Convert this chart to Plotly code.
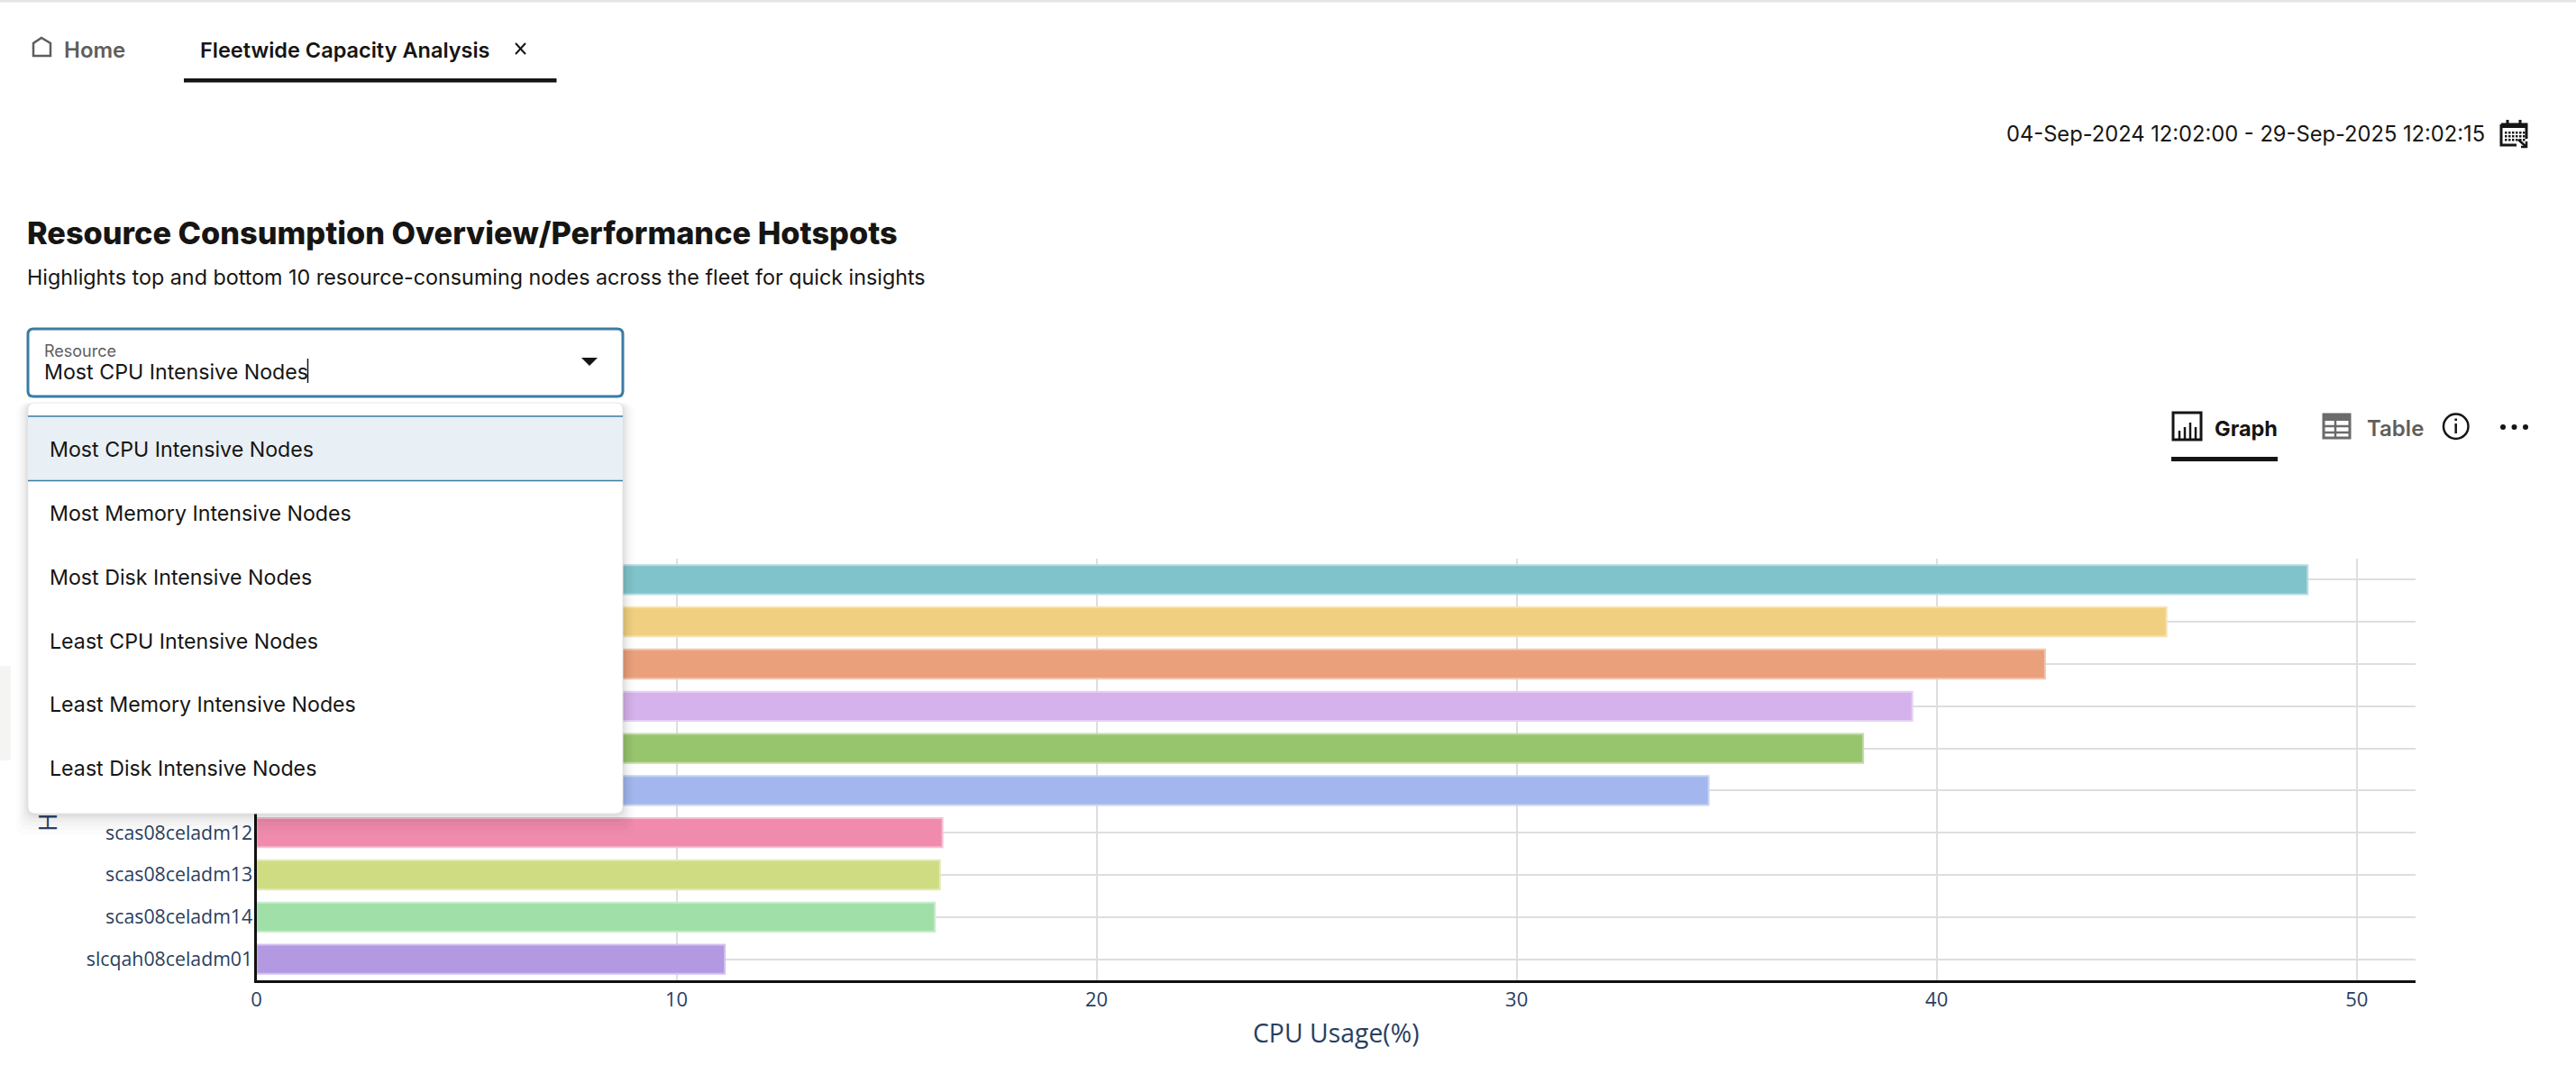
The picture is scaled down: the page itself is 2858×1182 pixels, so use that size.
import plotly.graph_objects as go

W, H = 2858, 1182

categories = ["node-1", "node-2", "node-3", "node-4", "node-5", "node-6",
              "scas08celadm12", "scas08celadm13", "scas08celadm14", "slcqah08celadm01"]
# Labels of the first six rows are hidden behind the open dropdown in the reference.
tick_labels = ["", "", "", "", "", "", "scas08celadm12", "scas08celadm13", "scas08celadm14", "slcqah08celadm01"]
cpu_usage = [48.83, 45.47, 42.58, 39.42, 38.25, 34.57, 16.33, 16.27, 16.15, 11.15]
bar_colors = ["#80c3ca", "#f0d080", "#eba07c", "#d6b2ec", "#97c56d", "#a3b7ee", "#f08bae", "#cfdc82", "#a0e0a8", "#b299e2"]
edge_colors = ["#b5dce0", "#f6e2b0", "#f3c6b0", "#e6d1f4", "#c3dda8", "#c8d4f5", "#f6bcd0", "#e2eab5", "#c8ecce", "#d2c2ef"]
x_ticks = [0, 10, 20, 30, 40, 50]
menu_items = ["Most CPU Intensive Nodes", "Most Memory Intensive Nodes", "Most Disk Intensive Nodes",
              "Least CPU Intensive Nodes", "Least Memory Intensive Nodes", "Least Disk Intensive Nodes"]

INK = "#161513"
GREY = "#5f5e5b"
BLUE = "#3a7ba3"
AXIS = "#2a3f5f"
UI = "Inter"

px = lambda x: x / W
py = lambda y: 1 - y / H


def pt(x, y):
    return f"{px(x):.6f},{py(y):.6f}"


def rrect(x0, y0, x1, y1, r):
    return (f"M{pt(x0 + r, y0)} L{pt(x1 - r, y0)} Q{pt(x1, y0)} {pt(x1, y0 + r)} "
            f"L{pt(x1, y1 - r)} Q{pt(x1, y1)} {pt(x1 - r, y1)} "
            f"L{pt(x0 + r, y1)} Q{pt(x0, y1)} {pt(x0, y1 - r)} "
            f"L{pt(x0, y0 + r)} Q{pt(x0, y0)} {pt(x0 + r, y0)} Z")


shapes = []


def rect(x0, y0, x1, y1, fill, line=None, lw=0):
    shapes.append(dict(type="rect", xref="paper", yref="paper", x0=px(x0), x1=px(x1), y0=py(y1), y1=py(y0),
                       fillcolor=fill, line=dict(color=line or fill, width=lw), layer="above"))


def path(d, fill="rgba(0,0,0,0)", line="rgba(0,0,0,0)", lw=0):
    shapes.append(dict(type="path", xref="paper", yref="paper", path=d, fillcolor=fill,
                       line=dict(color=line, width=lw), layer="above"))


def segs(points):
    return "M" + " L".join(pt(x, y) for x, y in points)


annotations = []


def text(x, y, s, size, color=INK, weight=400, anchor="left", family=UI, angle=0):
    annotations.append(dict(xref="paper", yref="paper", x=px(x), y=py(y), text=s, showarrow=False,
                            xanchor=anchor, yanchor="middle", borderpad=0, textangle=angle,
                            font=dict(family=family, size=size, color=color, weight=weight)))


# page chrome
rect(0, 0, W, 2.5, "#e4e4e4")
rect(0, 739, 12, 844, "#f4f4f3")

# tabs
path(segs([(37, 62), (37, 48), (46, 42), (56, 48), (56, 62), (37, 62)]) + " Z", line=GREY, lw=2.5)
text(70, 55, "Home", 24, GREY, 600)
text(220.5, 55, "Fleetwide Capacity Analysis", 23.5, INK, 600)
path(segs([(572, 48), (583, 60)]), line=INK, lw=2)
path(segs([(583, 48), (572, 60)]), line=INK, lw=2)
rect(204, 87, 617.5, 91.5, INK)

# date range + calendar
text(2225, 149, "04-Sep-2024 12:02:00 - 29-Sep-2025 12:02:15", 23.7, INK)
path(segs([(2775, 138), (2803, 138), (2803, 154)]), line=INK, lw=3)
path(segs([(2775, 138), (2775, 161), (2792, 161)]), line=INK, lw=3)
rect(2775, 137, 2803, 142, INK)
path(segs([(2782, 133), (2782, 140)]), line=INK, lw=3)
path(segs([(2796, 133), (2796, 140)]), line=INK, lw=3)
for gy in (146, 150, 154):
    for gx in (2779, 2783, 2787, 2791, 2795, 2799):
        rect(gx, gy, gx + 2.5, gy + 2.5, INK)
path(segs([(2794, 155), (2803, 163)]), line=INK, lw=2.5)
path(segs([(2803, 157), (2803, 163), (2797, 163)]), line=INK, lw=2.5)

# heading
text(28.5, 258.5, "Resource Consumption Overview/Performance Hotspots", 34.3, INK, 800)
text(29, 308, "Highlights top and bottom 10 resource-consuming nodes across the fleet for quick insights", 23.3, INK)

# graph / table switch
path(segs([(2411, 458), (2442, 458), (2442, 488), (2411, 488), (2411, 458)]) + " Z", line=INK, lw=3)
for bx, by in ((2418, 478), (2424, 474), (2430, 469), (2436, 474)):
    path(segs([(bx, by), (bx, 488)]), line=INK, lw=2.5)
text(2456, 475, "Graph", 23.5, INK, 700)
rect(2409, 507, 2527, 512, INK)
rect(2578, 460, 2607, 486, "#ffffff", "#6b6b6b", 3)
rect(2578, 460, 2607, 467, "#6b6b6b")
for ly in (473, 480):
    path(segs([(2578, ly), (2607, ly)]), line="#6b6b6b", lw=2.5)
path(segs([(2591, 460), (2591, 486)]), line="#6b6b6b", lw=2.5)
text(2625, 475, "Table", 24, GREY, 600)
shapes.append(dict(type="circle", xref="paper", yref="paper", x0=px(2711), x1=px(2738.5), y0=py(487), y1=py(459.5),
                   fillcolor="rgba(0,0,0,0)", line=dict(color=INK, width=2.5), layer="above"))
path(segs([(2724.7, 470), (2724.7, 481)]), line=INK, lw=2.5)
rect(2723.4, 464.5, 2726, 467, INK)
for dx in (2777, 2789.5, 2802):
    shapes.append(dict(type="circle", xref="paper", yref="paper", x0=px(dx - 3), x1=px(dx + 3),
                       y0=py(477), y1=py(471), fillcolor=INK, line=dict(width=0), layer="above"))

# dropdown shadow
for grow, alpha in ((26, 0.012), (20, 0.014), (15, 0.018), (10, 0.022), (6, 0.028), (3, 0.035)):
    path(rrect(31 - grow * 0.5, 447, 691 + grow * 0.5, 903 + grow * 0.9, 12), fill=f"rgba(0,0,0,{alpha})")

# dropdown menu
path(rrect(31, 447, 691, 903, 8), fill="#ffffff", line="#e6e6e6", lw=1)
rect(31, 462, 691, 533.5, "#e8f0f6")
path(segs([(31, 462), (691, 462)]), line=BLUE, lw=1.5)
path(segs([(31, 533.5), (691, 533.5)]), line=BLUE, lw=1.5)
item_y = [499, 570, 640.7, 711.7, 782, 852.7]
for label, iy in zip(menu_items, item_y):
    text(54, iy, label, 23.2, INK)

# select box
path(rrect(31, 365, 691, 440, 6), fill="#ffffff", line=BLUE, lw=3)
text(47.5, 389, "Resource", 18, GREY)
text(47.5, 413, "Most CPU Intensive Nodes", 23.2, INK)
path(segs([(341.5, 398), (341.5, 425)]), line=INK, lw=1.5)
path(segs([(645, 397), (663, 397), (654, 406)]) + " Z", fill=INK)

# clipped remainder of the vertical axis title
text(52, 913, "H", 28, AXIS, anchor="center", angle=-90, family="Open Sans")

fig = go.Figure(go.Bar(
    x=cpu_usage, y=categories, orientation="h", width=0.69,
    marker=dict(color=bar_colors, line=dict(color=edge_colors, width=2)),
))
fig.update_layout(
    width=W, height=H, margin=dict(l=0, r=0, t=0, b=0, pad=0),
    paper_bgcolor="#ffffff", plot_bgcolor="#ffffff", showlegend=False,
    font=dict(family="Open Sans", color=AXIS, size=22),
    xaxis=dict(domain=[px(284.5), px(2680)], range=[0, 51.4], anchor="y", tickvals=x_ticks, automargin=False,
               gridcolor="#dedede", gridwidth=2, showline=True, linecolor="#111111", linewidth=3,
               zeroline=False, ticks="", tickfont=dict(size=22, color=AXIS),
               title=dict(text="CPU Usage(%)", font=dict(size=28.4, color=AXIS))),
    yaxis=dict(domain=[py(1088), py(620)], range=[9.5, -0.5], anchor="x", type="category", automargin=False,
               categoryorder="array", categoryarray=categories,
               tickmode="array", tickvals=categories, ticktext=tick_labels, ticklabelstandoff=-3,
               gridcolor="#dedede", gridwidth=2, showline=True, linecolor="#111111", linewidth=3,
               zeroline=False, ticks="", tickfont=dict(size=21.3, color=AXIS)),
    shapes=shapes, annotations=annotations,
)
fig.write_html("out.html", config=dict(displayModeBar=False),
               post_script="document.body.style.margin='0';document.body.style.overflow='hidden';")
